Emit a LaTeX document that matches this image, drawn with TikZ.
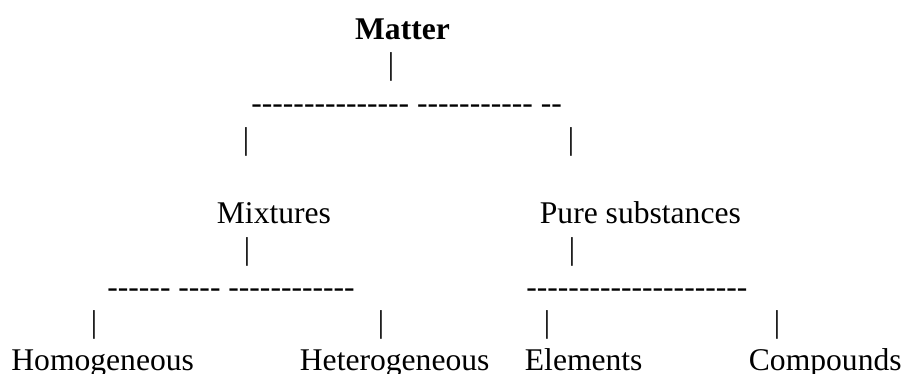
\documentclass[tikz,border=0pt]{standalone}
\usepackage{fontspec}
\setmainfont{Liberation Serif}
\newfontfamily\dashfont{Liberation Serif}
\usepackage{tikz}
\usetikzlibrary{positioning}

\begin{document}
\begin{tikzpicture}[x=0.5pt,y=-0.5pt,
  word/.style={anchor=base west,inner sep=0pt},
  bar/.style={anchor=center,inner sep=0pt},
  rule/.style={anchor=base west,inner sep=0pt,font=\fontsize{15.8}{18}\dashfont},
  every node/.style={font=\fontsize{15.8}{18}\selectfont}]
  \useasboundingbox (0,0) rectangle (904,374);
  % top level
  \node[anchor=base,inner sep=0pt,font=\fontsize{15.8}{18}\selectfont\bfseries] (matter) at (402.5,40) {Matter};
  \node[bar] (b0) at (391,67) {|};
  \node[rule] (r0) at (251,113) {--------------- ----------- --};
  \node[bar] (b1) at (246,141.5) {|};
  \node[bar] (b2) at (571,141.5) {|};
  % second level
  \node[word] (mix) at (216.5,223) {Mixtures};
  \node[word] (pure) at (539.5,223) {Pure substances};
  \node[bar] (b3) at (247,251.5) {|};
  \node[bar] (b4) at (572,251.5) {|};
  \node[rule] (r1) at (107,297) {------ ---- ------------};
  \node[rule] (r2) at (526,297) {---------------------};
  \node[bar] (b5) at (94,325) {|};
  \node[bar] (b6) at (381,325) {|};
  \node[bar] (b7) at (547,325) {|};
  \node[bar] (b8) at (777,325) {|};
  % bottom level
  \node[word] (homo) at (11,370) {Homogeneous};
  \node[word] (hetero) at (299.5,370) {Heterogeneous};
  \node[word] (elem) at (524.5,370) {Elements};
  \node[word] (comp) at (748.5,370) {Compounds};
\end{tikzpicture}
\end{document}
